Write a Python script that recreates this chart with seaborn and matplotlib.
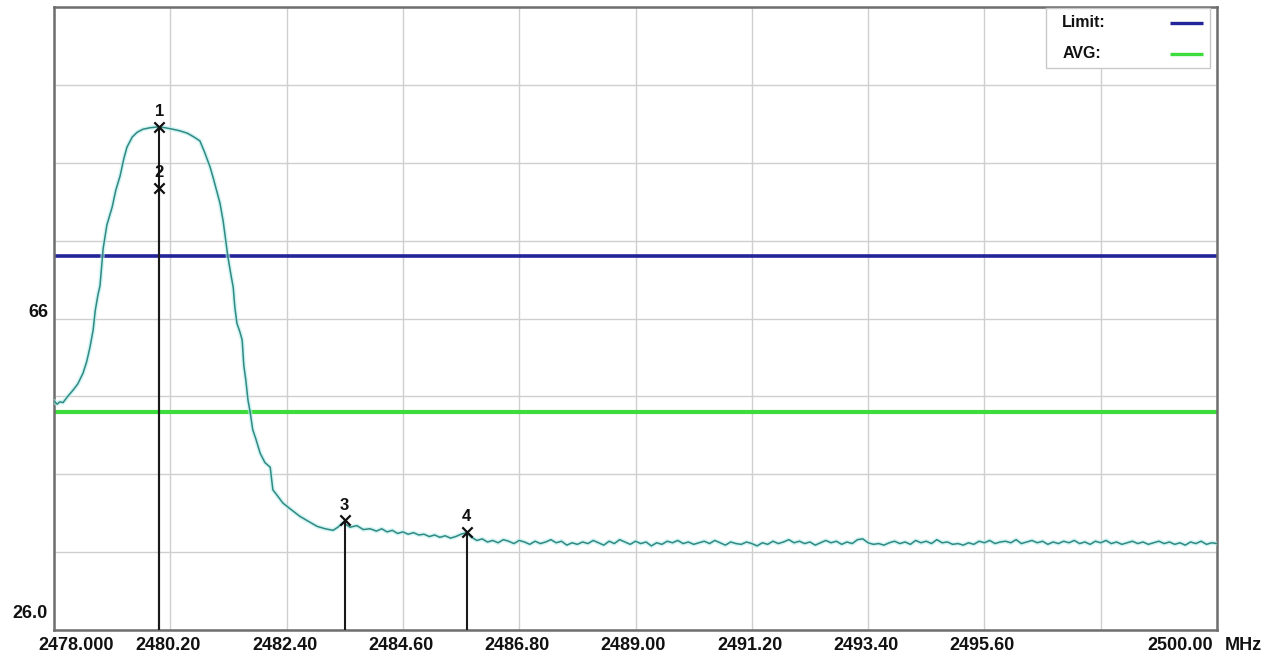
import numpy as np
import pandas as pd
import matplotlib
matplotlib.use("Agg")
import matplotlib.pyplot as plt
import matplotlib.transforms as mtransforms
from matplotlib.patches import Rectangle
import seaborn as sns

# ---------------- data ----------------
# main emission lobe + skirt (MHz, dBuV/m)
peak_freq = [2478.00, 2478.06, 2478.11, 2478.17, 2478.26, 2478.36, 2478.45, 2478.55,
             2478.62, 2478.68, 2478.74, 2478.78, 2478.83, 2478.87, 2478.93, 2479.00,
             2479.10, 2479.17, 2479.25, 2479.32, 2479.38, 2479.48, 2479.57, 2479.68,
             2479.82, 2479.97, 2480.10, 2480.25, 2480.38, 2480.52, 2480.65, 2480.76,
             2480.84, 2480.89, 2480.95, 2481.01, 2481.08, 2481.14, 2481.20, 2481.23,
             2481.29, 2481.35, 2481.39, 2481.42, 2481.46, 2481.52, 2481.56, 2481.59,
             2481.63, 2481.67, 2481.71, 2481.76, 2481.82, 2481.90, 2481.99, 2482.09,
             2482.14, 2482.22, 2482.33, 2482.46, 2482.65, 2482.80, 2482.98, 2483.13,
             2483.28, 2483.37, 2483.47, 2483.60, 2483.73, 2483.85, 2483.98]
peak_level = [55.4, 55.0, 55.3, 55.2, 56.0, 56.8, 57.6, 59.0,
              60.5, 62.3, 64.5, 67.0, 69.0, 70.2, 75.0, 78.0,
              80.3, 82.5, 84.3, 86.5, 88.0, 89.3, 89.9, 90.3,
              90.5, 90.6, 90.5, 90.3, 90.1, 89.8, 89.3, 88.8,
              87.5, 86.6, 85.5, 84.1, 82.3, 80.8, 78.5, 77.0,
              73.9, 71.5, 70.0, 67.5, 65.4, 64.2, 63.2, 60.0,
              58.0, 55.5, 54.0, 51.7, 50.5, 48.7, 47.5, 46.9,
              44.0, 43.3, 42.3, 41.6, 40.6, 40.0, 39.3, 39.0,
              38.8, 39.2, 39.8, 39.2, 39.4, 38.9, 39.0]

# noise floor, 0.1 MHz sweep steps starting at 2484.1 MHz
tail_start = 2484.1
tail_step = 0.1
tail_level = [38.7, 39.0, 38.6, 38.8, 38.4, 38.6, 38.3, 38.5, 38.2,
              38.3, 38.0, 38.2, 37.9, 38.1, 37.8, 38.0, 38.3, 38.5, 37.9,
              37.5, 37.7, 37.3, 37.5, 37.2, 37.6, 37.4, 37.1, 37.5, 37.3,
              37.0, 37.4, 37.1, 37.3, 37.6, 37.2, 37.4, 36.9, 37.2, 37.0,
              37.3, 37.1, 37.5, 37.2, 36.9, 37.4, 37.1, 37.6, 37.3, 37.0,
              37.4, 37.1, 37.3, 36.8, 37.2, 37.0, 37.4, 37.2, 37.5, 37.1,
              37.3, 37.0, 37.2, 37.4, 37.1, 37.5, 37.2, 36.9, 37.3, 37.1,
              37.0, 37.3, 37.1, 36.8, 37.2, 37.0, 37.4, 37.1, 37.3, 37.6,
              37.2, 37.4, 37.1, 37.3, 36.9, 37.2, 37.5, 37.2, 37.4, 37.0,
              37.3, 37.1, 37.6, 37.7, 37.2, 37.0, 37.1, 36.9, 37.2, 37.4,
              37.1, 37.3, 37.0, 37.5, 37.2, 37.4, 37.1, 37.6, 37.2, 37.3,
              37.0, 37.1, 36.9, 37.2, 37.0, 37.4, 37.2, 37.5, 37.1, 37.3,
              37.4, 37.2, 37.6, 37.1, 37.3, 37.5, 37.2, 37.4, 37.0, 37.3,
              37.1, 37.4, 37.2, 37.5, 37.1, 37.3, 37.0, 37.4, 37.2, 37.5,
              37.1, 37.3, 37.0, 37.2, 37.4, 37.1, 37.3, 37.0, 37.2, 37.4,
              37.1, 37.3, 37.0, 37.2, 36.9, 37.3, 37.1, 37.4, 37.0, 37.2, 37.1]

limit_level = 74.0
avg_level = 54.0

marker_ids = ["1", "2", "3", "4"]
marker_freq = [2479.99, 2479.99, 2483.50, 2485.81]
marker_level = [90.6, 82.8, 40.1, 38.6]

x_ticks = [2478.0, 2480.2, 2482.4, 2484.6, 2486.8, 2489.0, 2491.2, 2493.4, 2495.6, 2497.8, 2500.0]
x_labels = ["2478.000", "2480.20", "2482.40", "2484.60", "2486.80", "2489.00",
            "2491.20", "2493.40", "2495.60", "", "2500.00"]
x_unit = "MHz"
y_ticks = [26, 36, 46, 56, 66, 76, 86, 96, 106]
y_labels = {66: "66", 26: "26.0"}
legend_labels = ["Limit:", "AVG:"]

# ---------------- build frame ----------------
tail_freq = np.round(tail_start + tail_step * np.arange(len(tail_level)), 2)
trace = pd.DataFrame({
    "freq": np.concatenate([peak_freq, tail_freq]),
    "level": np.concatenate([peak_level, tail_level]),
})

sns.set_theme(style="white")
plt.rcParams["font.family"] = ["Liberation Sans", "DejaVu Sans"]

fig = plt.figure(figsize=(12.68, 6.6), dpi=100)
ax = fig.add_axes([54 / 1268, 30 / 660, 1163 / 1268, 623 / 660])

ax.set_xlim(2478.0, 2500.0)
ax.set_ylim(26, 106)
ax.set_xticks(x_ticks)
ax.set_yticks(y_ticks)
ax.set_xticklabels([])
ax.set_yticklabels([])
ax.tick_params(length=0)
ax.grid(True, color="#cfcfcf", linewidth=1.0)
ax.set_axisbelow(True)
for sp in ax.spines.values():
    sp.set_color("#6e6e6e")
    sp.set_linewidth(1.8)

# limit / avg lines
ax.axhline(limit_level, color="#23239a", linewidth=2.6, zorder=2)
ax.axhline(avg_level, color="#3ddc3d", linewidth=3.0, zorder=2)

# trace with faint glow
sns.lineplot(data=trace, x="freq", y="level", ax=ax, color="#b8eeee",
             linewidth=3.2, alpha=0.6, zorder=3, estimator=None, sort=False)
sns.lineplot(data=trace, x="freq", y="level", ax=ax, color="#2f8a82",
             linewidth=1.1, zorder=4, estimator=None, sort=False)
ax.set_xlabel("")
ax.set_ylabel("")

# markers
for mid, mf, ml in zip(marker_ids, marker_freq, marker_level):
    ax.vlines(mf, 26, ml, color="#1a1a1a", linewidth=1.5, zorder=5)
ax.scatter(marker_freq, marker_level, marker="x", s=55, color="#111111",
           linewidths=1.6, zorder=6)
off_up = mtransforms.offset_copy(ax.transData, fig=fig, x=0, y=15, units="dots")
for mid, mf, ml in zip(marker_ids, marker_freq, marker_level):
    ax.text(mf, ml, mid, transform=off_up, ha="center", va="center",
            fontsize=12, fontweight="bold", color="#111111", zorder=7)

# x tick labels
xlab_tr = mtransforms.blended_transform_factory(ax.transData, ax.transAxes)
for i, (t, lab) in enumerate(zip(x_ticks, x_labels)):
    if not lab:
        continue
    if i == 0:
        tr = mtransforms.offset_copy(xlab_tr, fig=fig, x=22, y=-15, units="dots")
        ha = "center"
    elif i == len(x_ticks) - 1:
        tr = mtransforms.offset_copy(xlab_tr, fig=fig, x=-4, y=-15, units="dots")
        ha = "right"
    else:
        tr = mtransforms.offset_copy(xlab_tr, fig=fig, x=-2, y=-15, units="dots")
        ha = "center"
    ax.text(t, 0, lab, transform=tr, ha=ha, va="center", fontsize=13,
            fontweight="bold", color="#111111")
ax.text(1.0, 0, x_unit,
        transform=mtransforms.offset_copy(ax.transAxes, fig=fig, x=26, y=-15, units="dots"),
        ha="center", va="center", fontsize=13, fontweight="bold", color="#111111")

# y tick labels
ylab_tr = mtransforms.blended_transform_factory(ax.transAxes, ax.transData)
ax.text(0, 66, y_labels[66],
        transform=mtransforms.offset_copy(ylab_tr, fig=fig, x=-6, y=6, units="dots"),
        ha="right", va="center", fontsize=13, fontweight="bold", color="#111111")
ax.text(0, 26, y_labels[26],
        transform=mtransforms.offset_copy(ylab_tr, fig=fig, x=-6, y=17, units="dots"),
        ha="right", va="center", fontsize=13, fontweight="bold", color="#111111")

# legend box (top right, inside axes)
ax.add_patch(Rectangle((0.853, 0.902), 0.141, 0.096, transform=ax.transAxes,
                       facecolor="white", edgecolor="#c8c8c8", linewidth=1.0, zorder=8))
leg_colors = ["#23239a", "#3ddc3d"]
leg_y = [0.975, 0.925]
for lab, col, yy in zip(legend_labels, leg_colors, leg_y):
    ax.text(0.867, yy, lab, transform=ax.transAxes, ha="left", va="center",
            fontsize=11.5, fontweight="bold", color="#111111", zorder=9)
    ax.plot([0.9596, 0.988], [yy, yy], transform=ax.transAxes, color=col,
            linewidth=2.4, zorder=9, solid_capstyle="butt")

fig.savefig("out.png", dpi=100)
